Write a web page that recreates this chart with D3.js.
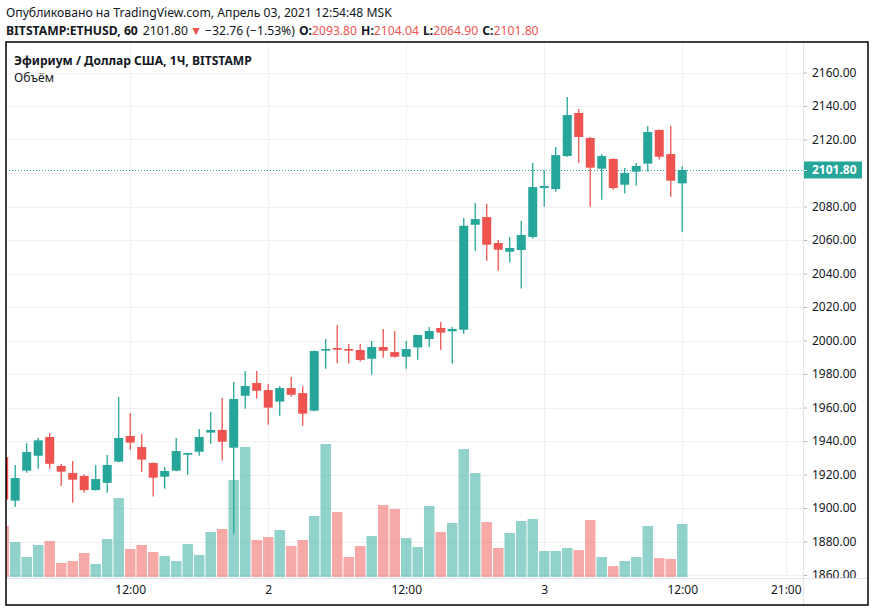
<!DOCTYPE html>
<html lang="ru">
    <head>
        <meta charset="utf-8">
        <title>BITSTAMP:ETHUSD, 60</title>
        <script src="https://d3js.org/d3.v7.min.js"></script>
        <style type="text/css">
        body { margin: 0; background: #ffffff; }
        text { font-family: "Noto Sans", "Open Sans", sans-serif; }
        </style>
    </head>
    <body>
        <script type="text/javascript">

//1. consts
const svgWidth = 874;
const svgHeight = 612;
const paneLeft = 6, paneRight = 803, paneTop = 42, paneBottom = 578;
const frameRight = 868, frameBottom = 605;
const upColor = "#26a69a";
const downColor = "#ef5350";

//2. data (hourly candles, Apr 1 01:00 .. Apr 3 12:00 MSK)
const openVals  = [1930.4, 1904.4, 1922.3, 1931.2, 1942.4, 1925.1, 1920.9, 1919.1, 1910.7, 1915.0,
                   1927.7, 1943.0, 1936.4, 1926.9, 1918.7, 1922.3, 1931.8, 1933.6, 1945.0, 1946.6,
                   1936.0, 1967.0, 1974.6, 1970.4, 1963.5, 1971.6, 1968.6, 1958.1, 1993.9, 1995.5,
                   1994.9, 1994.3, 1989.1, 1996.1, 1993.1, 1990.3, 1995.9, 2000.9, 2007.5, 2005.5,
                   2006.4, 2069.1, 2073.7, 2058.2, 2053.0, 2054.0, 2061.8, 2091.0, 2090.4, 2110.1,
                   2135.8, 2120.9, 2102.6, 2108.4, 2093.0, 2100.8, 2105.6, 2125.7, 2111.3, 2093.80];
const highVals  = [1931.0, 1925.7, 1938.8, 1941.8, 1944.8, 1926.3, 1928.0, 1920.1, 1925.7, 1931.6,
                   1966.3, 1956.7, 1944.2, 1927.2, 1924.3, 1941.8, 1933.0, 1947.2, 1957.3, 1965.7,
                   1975.2, 1981.8, 1981.8, 1974.0, 1972.8, 1978.2, 1972.8, 1994.0, 2000.9, 2009.3,
                   1997.9, 1997.9, 1999.7, 2006.9, 2005.7, 1999.7, 2003.5, 2008.1, 2011.1, 2008.1,
                   2073.1, 2082.1, 2081.5, 2060.0, 2061.8, 2071.3, 2106.0, 2101.6, 2115.5, 2145.4,
                   2138.2, 2121.5, 2111.3, 2108.6, 2103.0, 2106.0, 2128.1, 2126.0, 2128.1, 2104.04];
const lowVals   = [1904.0, 1900.6, 1921.0, 1923.5, 1923.5, 1913.2, 1903.2, 1909.1, 1910.5, 1909.1,
                   1927.3, 1934.6, 1921.7, 1906.8, 1911.5, 1922.0, 1919.9, 1931.2, 1938.4, 1928.3,
                   1884.7, 1959.3, 1965.3, 1949.7, 1955.1, 1966.4, 1949.1, 1957.8, 1983.2, 1986.4,
                   1986.2, 1987.4, 1979.6, 1989.7, 1989.7, 1983.2, 1988.5, 1996.1, 1994.3, 1986.2,
                   2004.1, 2053.4, 2047.6, 2041.7, 2046.5, 2031.0, 2060.8, 2079.9, 2088.8, 2109.7,
                   2106.1, 2079.9, 2084.0, 2090.0, 2087.7, 2092.4, 2100.8, 2108.0, 2085.8, 2064.90];
const closeVals = [1905.0, 1917.9, 1933.4, 1940.4, 1926.4, 1921.7, 1916.9, 1910.7, 1917.3, 1925.7,
                   1941.8, 1939.0, 1928.9, 1918.1, 1922.1, 1934.0, 1932.8, 1942.4, 1946.6, 1939.6,
                   1965.1, 1972.8, 1970.0, 1959.9, 1971.6, 1967.6, 1956.3, 1993.7, 1994.9, 1994.5,
                   1993.9, 1988.4, 1996.1, 1993.9, 1990.3, 1994.9, 2003.3, 2005.7, 2004.7, 2006.9,
                   2068.5, 2072.5, 2057.2, 2054.2, 2055.2, 2063.0, 2091.6, 2092.2, 2110.7, 2134.6,
                   2121.5, 2103.2, 2110.1, 2091.0, 2100.0, 2104.2, 2124.5, 2109.7, 2095.4, 2101.80];
const volumeVals = [51, 35, 20, 32, 36, 14, 16, 24, 13, 38,
                    79, 28, 32, 25, 21, 16, 33, 22, 45, 48,
                    97, 130, 37, 40, 47, 31, 37, 61, 133, 65,
                    20, 31, 41, 72, 68, 39, 30, 71, 45, 54,
                    128, 104, 55, 29, 44, 56, 58, 26, 26, 29,
                    27, 57, 20, 11, 16, 20, 51, 19, 18, 53];

const firstBar = new Date(Date.UTC(2021, 3, 1, 1));
const times = d3.utcHour.range(firstBar, d3.utcHour.offset(firstBar, openVals.length));

const priceTicks = d3.range(1860, 2161, 20);
const timeTicks = [new Date(Date.UTC(2021, 3, 1, 12)), new Date(Date.UTC(2021, 3, 2, 0)),
                   new Date(Date.UTC(2021, 3, 2, 12)), new Date(Date.UTC(2021, 3, 3, 0)),
                   new Date(Date.UTC(2021, 3, 3, 12)), new Date(Date.UTC(2021, 3, 3, 21))];
const timeLabels = ["12:00", "2", "12:00", "3", "12:00", "21:00"];
const lastPrice = 2101.80;

const data = times.map((t, i) => ({
    t: t, o: openVals[i], h: highVals[i], l: lowVals[i], c: closeVals[i], v: volumeVals[i]
}));

//3. scales
const xScale = d3.scaleUtc()
    .domain([new Date(Date.UTC(2021, 3, 1, 1, 12)), new Date(Date.UTC(2021, 3, 3, 22, 30))])
    .range([paneLeft, paneRight]);

const yScale = d3.scaleLinear()
    .domain([1860, 2160])
    .range([575, 72.5]);

const volScale = d3.scaleLinear()
    .domain([0, d3.max(volumeVals)])
    .range([paneBottom - 1, paneBottom - 1 - 133]);

const bodyW = 9;
const volW = 10.5;

//4. svg
const svg = d3.select("body")
    .append("svg")
    .attr("width", svgWidth)
    .attr("height", svgHeight);

svg.append("rect")
    .attr("width", svgWidth)
    .attr("height", svgHeight)
    .attr("fill", "#ffffff");

const defs = svg.append("defs");
defs.append("clipPath").attr("id", "pane")
    .append("rect")
    .attr("x", paneLeft).attr("y", paneTop)
    .attr("width", paneRight - paneLeft).attr("height", paneBottom - paneTop);
defs.append("clipPath").attr("id", "priceAxis")
    .append("rect")
    .attr("x", paneRight).attr("y", paneTop)
    .attr("width", frameRight - paneRight).attr("height", paneBottom - paneTop);

//5. grid
const grid = svg.append("g").attr("clip-path", "url(#pane)");
grid.selectAll(".hgrid")
    .data(priceTicks)
    .enter()
    .append("line")
    .attr("x1", paneLeft).attr("x2", paneRight)
    .attr("y1", d => Math.round(yScale(d)) + 0.5)
    .attr("y2", d => Math.round(yScale(d)) + 0.5)
    .attr("stroke", "#f0f0f0");

grid.selectAll(".vgrid")
    .data(timeTicks)
    .enter()
    .append("line")
    .attr("y1", paneTop).attr("y2", paneBottom)
    .attr("x1", d => Math.round(xScale(d)) + 0.5)
    .attr("x2", d => Math.round(xScale(d)) + 0.5)
    .attr("stroke", "#f0f0f0");

//6. volume bars
const plot = svg.append("g").attr("clip-path", "url(#pane)");
plot.selectAll(".vol")
    .data(data)
    .enter()
    .append("rect")
    .attr("x", d => xScale(d.t) - volW / 2)
    .attr("y", d => volScale(d.v))
    .attr("width", volW)
    .attr("height", d => volScale(0) - volScale(d.v))
    .attr("fill", d => d.c >= d.o ? upColor : downColor)
    .attr("fill-opacity", 0.5);

// last price line
plot.append("line")
    .attr("x1", paneLeft).attr("x2", paneRight)
    .attr("y1", Math.round(yScale(lastPrice)) + 0.5)
    .attr("y2", Math.round(yScale(lastPrice)) + 0.5)
    .attr("stroke", upColor)
    .attr("stroke-dasharray", "1,2");

//7. candles
const candles = plot.selectAll(".candle")
    .data(data)
    .enter()
    .append("g");

candles.append("line")
    .attr("x1", d => xScale(d.t)).attr("x2", d => xScale(d.t))
    .attr("y1", d => yScale(d.h)).attr("y2", d => yScale(d.l))
    .attr("stroke", d => d.c >= d.o ? upColor : downColor)
    .attr("stroke-width", 1.3);

candles.append("rect")
    .attr("x", d => xScale(d.t) - bodyW / 2)
    .attr("y", d => yScale(Math.max(d.o, d.c)))
    .attr("width", bodyW)
    .attr("height", d => Math.max(1.5, Math.abs(yScale(d.o) - yScale(d.c))))
    .attr("fill", d => d.c >= d.o ? upColor : downColor);

//8. axes
// the 2100 label sits under the current price box, so it is left out
const rightAxis = d3.axisRight(yScale)
    .tickValues(priceTicks.filter(d => Math.abs(d - lastPrice) > 8))
    .tickSize(4)
    .tickPadding(5)
    .tickFormat(d3.format(".2f"));

const yAxisG = svg.append("g")
    .attr("clip-path", "url(#priceAxis)")
    .append("g")
    .attr("transform", "translate(" + paneRight + ",0)")
    .call(rightAxis);
yAxisG.select(".domain").remove();
yAxisG.selectAll(".tick line").attr("stroke", "#b2b5be");
yAxisG.selectAll(".tick text")
    .attr("font-family", "Noto Sans")
    .attr("font-size", "12px")
    .attr("fill", "#131722");

const bottomAxis = d3.axisBottom(xScale)
    .tickValues(timeTicks)
    .tickSize(0)
    .tickPadding(7)
    .tickFormat((d, i) => timeLabels[i]);

const xAxisG = svg.append("g")
    .attr("transform", "translate(0," + paneBottom + ")")
    .call(bottomAxis);
xAxisG.select(".domain").remove();
xAxisG.selectAll(".tick text")
    .attr("font-family", "Noto Sans")
    .attr("font-size", "12px")
    .attr("fill", "#131722");

// current price label
svg.append("rect")
    .attr("x", paneRight).attr("y", yScale(lastPrice) - 8.5)
    .attr("width", 59).attr("height", 17)
    .attr("fill", upColor);
svg.append("line")
    .attr("x1", paneRight).attr("x2", paneRight + 4)
    .attr("y1", Math.round(yScale(lastPrice)) + 0.5)
    .attr("y2", Math.round(yScale(lastPrice)) + 0.5)
    .attr("stroke", "#ffffff");
svg.append("text")
    .attr("x", paneRight + 9).attr("y", yScale(lastPrice))
    .attr("dy", "0.35em")
    .attr("font-size", "12px")
    .attr("font-weight", 700)
    .attr("fill", "#ffffff")
    .text(d3.format(".2f")(lastPrice));

//9. frame lines
svg.append("line")
    .attr("x1", paneLeft).attr("x2", frameRight)
    .attr("y1", paneBottom + 0.5).attr("y2", paneBottom + 0.5)
    .attr("stroke", "#e0e3eb");
svg.append("line")
    .attr("x1", paneRight + 0.5).attr("x2", paneRight + 0.5)
    .attr("y1", paneTop).attr("y2", frameBottom)
    .attr("stroke", "#e0e3eb");
svg.append("rect")
    .attr("x", paneLeft).attr("y", paneTop)
    .attr("width", frameRight - paneLeft).attr("height", frameBottom - paneTop)
    .attr("fill", "none")
    .attr("stroke", "#000000")
    .attr("stroke-width", 1.5);

//10. header texts
svg.append("text")
    .attr("x", 6).attr("y", 17)
    .attr("font-size", "12.2px")
    .attr("fill", "#131722")
    .text("Опубликовано на TradingView.com, Апрель 03, 2021 12:54:48 MSK");

const info = svg.append("text")
    .attr("x", 6).attr("y", 35)
    .attr("font-size", "12.2px")
    .attr("fill", "#131722");
info.append("tspan").attr("font-weight", 700).text("BITSTAMP:ETHUSD, 60");
info.append("tspan").attr("dx", 5).text("2101.80");
info.append("tspan").attr("fill", downColor).attr("dx", 2).text("▼");
info.append("tspan").attr("dx", 3).text("−32.76 (−1.53%)");
const ohlc = [["O:", "2093.80"], ["H:", "2104.04"], ["L:", "2064.90"], ["C:", "2101.80"]];
ohlc.forEach(p => {
    info.append("tspan").attr("dx", 4).attr("font-weight", 700).text(p[0]);
    info.append("tspan").attr("fill", downColor).text(p[1]);
});

svg.append("text")
    .attr("x", 14).attr("y", 65)
    .attr("font-size", "12.1px")
    .attr("font-weight", 700)
    .attr("fill", "#131722")
    .text("Эфириум / Доллар США, 1Ч, BITSTAMP");

svg.append("text")
    .attr("x", 14).attr("y", 82)
    .attr("font-size", "12.2px")
    .attr("fill", "#131722")
    .text("Объём");

</script>
</body>
</html>
